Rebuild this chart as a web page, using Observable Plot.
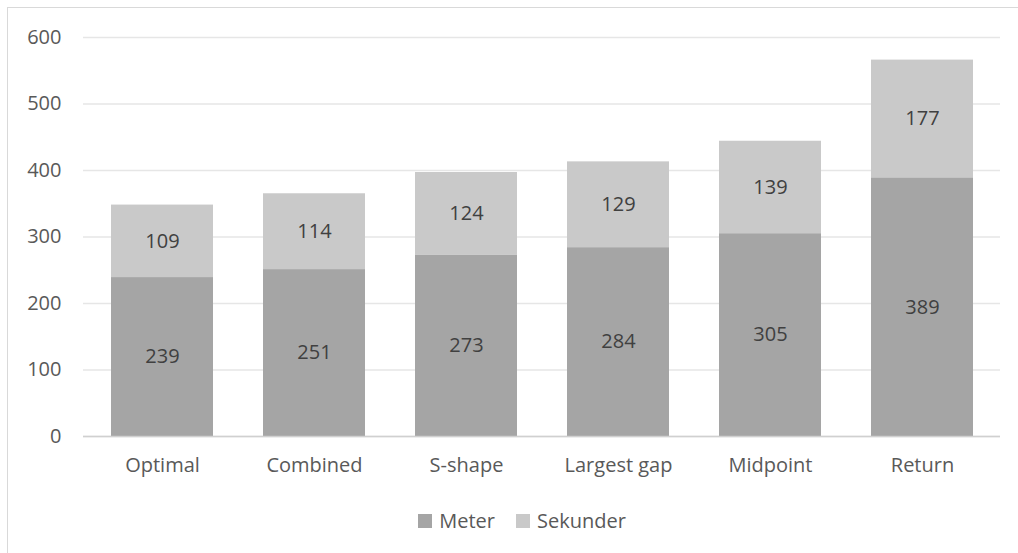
<!DOCTYPE html>
<html><head><meta charset="utf-8">
<script src="https://cdn.jsdelivr.net/npm/d3@7"></script>
<script src="https://cdn.jsdelivr.net/npm/@observablehq/plot@0.6"></script>
<style>
html,body{margin:0;padding:0;background:#fff;overflow:hidden;}
body{width:1018px;height:553px;position:relative;font-family:"Open Sans",sans-serif;}
#frame{position:absolute;left:7px;top:7px;width:1020px;height:600px;border:1px solid #d9d9d9;box-sizing:border-box;}
#chart{position:absolute;left:0;top:0;}
#legend{position:absolute;left:22px;top:506px;width:1000px;display:flex;justify-content:center;gap:21px;font-size:20px;color:#595959;box-sizing:border-box;line-height:30px;}
#legend span.item{display:flex;align-items:center;gap:7px;}
#legend span.sw{width:14px;height:14px;display:inline-block;}
</style></head>
<body>
<div id="frame"></div>
<div id="chart"></div>
<div id="legend"></div>
<script>
const categories = ["Optimal","Combined","S-shape","Largest gap","Midpoint","Return"];
const meter = [239,251,273,284,305,389];
const sekunder = [109,114,124,129,139,177];
const seriesNames = ["Meter","Sekunder"];
const seriesColors = ["#a5a5a5","#c9c9c9"];
const yTicks = [0,100,200,300,400,500,600];

const data = [];
categories.forEach((c,i)=>{
  data.push({cat:c, series:"Meter", value:meter[i]});
  data.push({cat:c, series:"Sekunder", value:sekunder[i]});
});

const plot = Plot.plot({
  width:1018, height:490,
  marginLeft:83, marginRight:18, marginTop:37, marginBottom:54,
  style:{fontFamily:"'Open Sans',sans-serif", fontSize:"20px", color:"#595959", background:"transparent"},
  x:{domain:categories, paddingInner:0.33, paddingOuter:0.165, label:null},
  y:{domain:[0,600], ticks:yTicks, label:null},
  color:{domain:seriesNames, range:seriesColors},
  marks:[
    Plot.gridY(yTicks, {stroke:"#e6e6e6", strokeOpacity:1, strokeWidth:1.5}),
    Plot.barY(data, {x:"cat", y:"value", fill:"series", z:"series", order:seriesNames}),
    Plot.ruleY([0], {stroke:"#d0d0d0", strokeWidth:1.5}),
    Plot.text(data, Plot.stackY({x:"cat", y:"value", z:"series", order:seriesNames, text:d=>String(d.value), fill:"#404040", fontSize:20})),
    Plot.axisY(yTicks, {tickSize:0, tickPadding:22, fontSize:20, fill:"#595959"}),
    Plot.axisX({tickSize:0, tickPadding:21, fontSize:20, fill:"#595959"})
  ]
});
document.getElementById("chart").appendChild(plot);

const leg = document.getElementById("legend");
seriesNames.forEach((n,i)=>{
  const it = document.createElement("span"); it.className="item";
  const sw = document.createElement("span"); sw.className="sw"; sw.style.background=seriesColors[i];
  const t = document.createElement("span"); t.textContent=n;
  it.appendChild(sw); it.appendChild(t); leg.appendChild(it);
});
</script>
</body></html>
